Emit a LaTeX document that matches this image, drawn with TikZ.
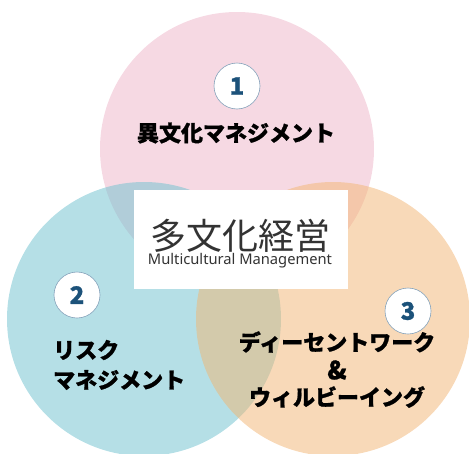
\documentclass[tikz,border=0pt]{standalone}
\usepackage{fontspec}
\usepackage{graphicx}
\newfontfamily\cjk{Noto Sans CJK JP}
\setmainfont{Noto Sans}
\definecolor{pinkc}{RGB}{237,180,200}
\definecolor{bluec}{RGB}{108,192,206}
\definecolor{orangec}{RGB}{242,180,114}
\definecolor{numblue}{RGB}{28,82,122}
\definecolor{ringc}{RGB}{130,160,185}
\tikzset{
  venn/.style={circle, minimum size=274pt, inner sep=0pt, fill opacity=0.5},
  numc/.style={circle, draw=ringc, line width=0.6pt, fill=white, minimum size=46pt, inner sep=0pt, text=numblue, font=\cjk\bfseries\fontsize{24}{24}\selectfont\addfontfeatures{FakeBold=1}},
  lab/.style={font=\cjk\bfseries\fontsize{22}{28}\selectfont\addfontfeatures{FakeBold=1}, text=black, inner sep=0pt}
}
\begin{document}
\begin{tikzpicture}[x=1pt,y=-1pt]
\useasboundingbox (0,0) rectangle (469,453);
\node[venn, fill=pinkc] (pk) at (237,149) {};
\node[venn, fill=bluec] (bl) at (144,319) {};
\node[venn, fill=orangec] (or) at (333,319) {};
\node[fill=white, minimum width=214pt, minimum height=99pt, inner sep=0pt] (box) at (241,239.5) {};
\node[font=\cjk\fontsize{36}{36}\selectfont, inner sep=0pt, text=black!80] (ttl) at (240,236) {多文化経営};
\node[inner sep=0pt, text=black!80] (sub) at (240,261) {\resizebox{184pt}{!}{\fontsize{12}{12}\selectfont Multicultural Management}};
\node[numc] (n1) at (237,86) {1};
\node[numc] (n2) at (77,295) {2};
\node[numc] (n3) at (408,311) {3};
\node[lab] (t1) at (236,133) {異文化マネジメント};
\node[lab, anchor=west] (t2a) at (53,350) {リスク};
\node[lab, anchor=west] (t2b) at (53,380) {マネジメント};
\node[lab] (t3a) at (337,342) {ディーセントワーク};
\node[lab, font=\cjk\bfseries\fontsize{25}{28}\selectfont\addfontfeatures{FakeBold=1}] (t3b) at (337,370) {\&};
\node[lab] (t3c) at (337,397) {ウィルビーイング};
\end{tikzpicture}
\end{document}
